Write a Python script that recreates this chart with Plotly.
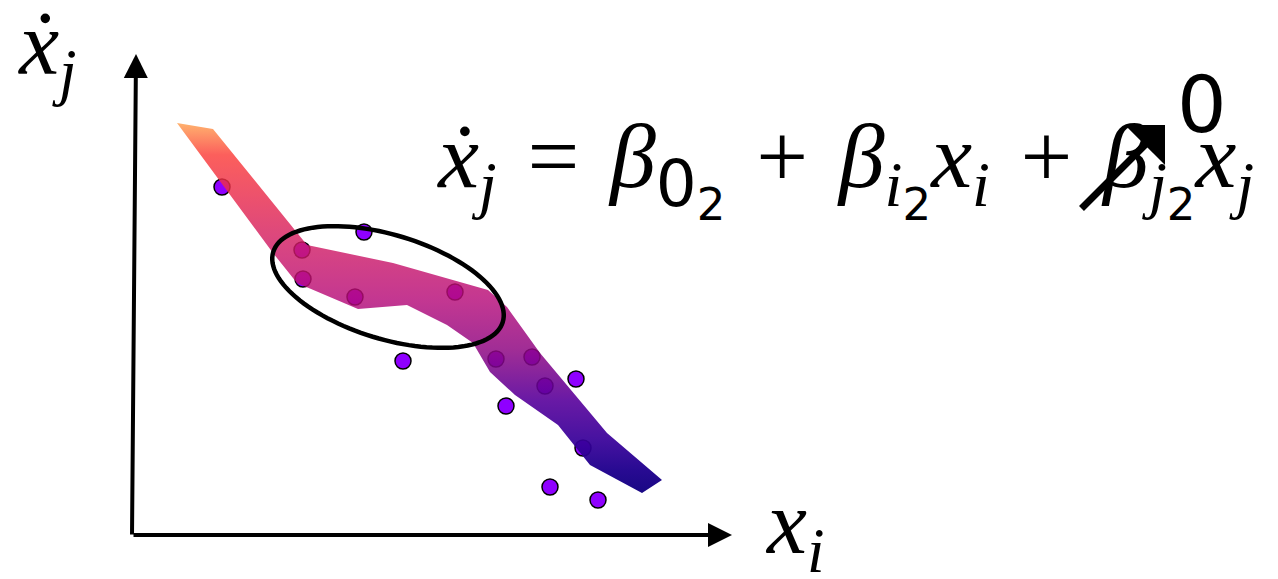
import numpy as np
import plotly.graph_objects as go

# Observations (x_i, dx_j/dt) in diagram units, origin at the axes corner
point_x = [89, 231, 169, 170, 222, 322, 270, 363, 399, 443, 412, 373, 450, 417, 465]
point_y = [348, 303, 285, 256, 238, 243, 174, 176, 178, 156, 149, 129, 87, 48, 35]

# Outline of the fitted band (upper edge then lower edge back to the start)
band_x = [44, 80, 174, 260, 355, 374, 407, 474, 529, 509, 457, 425, 382, 357,
          340, 314, 274, 225, 164, 140, 44]
band_y = [412, 406, 290, 272, 245, 228, 182, 102, 55, 42, 70, 110, 140, 163,
          192, 210, 230, 226, 252, 282, 412]

# Colour ramp of the band from its bottom (0) to its top (1)
band_colorscale = [
    [0.000, "rgba(20,3,130,0.98)"],
    [0.062, "rgba(31,0,141,0.96)"],
    [0.143, "rgba(56,0,153,0.93)"],
    [0.251, "rgba(88,0,155,0.90)"],
    [0.386, "rgba(143,8,131,0.85)"],
    [0.522, "rgba(182,11,121,0.82)"],
    [0.657, "rgba(206,27,103,0.82)"],
    [0.792, "rgba(231,42,78,0.82)"],
    [0.914, "rgba(251,60,56,0.82)"],
    [1.000, "rgba(255,161,78,0.82)"],
]

# Highlight ellipse: centre, semi-axes, tilt (degrees)
ellipse_center = (255, 248)
ellipse_axes = (120, 52)
ellipse_tilt = -17

# Axis extents
x_axis_end = 599
y_axis_end = 481

TEXT_FONT = "Liberation Serif"
DIGIT_FONT = "DejaVu Sans"
FS = 90
EQ_FS = 92
HS = "\u200a"  # hair space


def digit(s):
    return f'<span style="font-family:{DIGIT_FONT};font-style:normal">{s}</span>'


fig = go.Figure()

fig.add_trace(go.Scatter(
    x=point_x, y=point_y, mode="markers",
    marker=dict(size=16, color="#8f00ff", line=dict(color="black", width=1.5)),
    hoverinfo="skip", showlegend=False,
))

fig.add_trace(go.Scatter(
    x=band_x, y=band_y, mode="lines", fill="toself",
    line=dict(width=0),
    fillgradient=dict(type="vertical", colorscale=band_colorscale,
                      start=min(band_y), stop=max(band_y)),
    hoverinfo="skip", showlegend=False,
))

# ellipse outline as an SVG path
t = np.linspace(0, 2 * np.pi, 121)
th = np.deg2rad(ellipse_tilt)
ex = ellipse_center[0] + ellipse_axes[0] * np.cos(t) * np.cos(th) - ellipse_axes[1] * np.sin(t) * np.sin(th)
ey = ellipse_center[1] + ellipse_axes[0] * np.cos(t) * np.sin(th) + ellipse_axes[1] * np.sin(t) * np.cos(th)
path = "M " + " L ".join(f"{a:.2f},{b:.2f}" for a, b in zip(ex, ey)) + " Z"
fig.add_shape(type="path", path=path, xref="x", yref="y",
              line=dict(color="black", width=4.5))

equation = (
    "<i>x\u0307</i><sub><i>j</i></sub> " + HS + "=" + HS
    + " <i>β</i><sub>" + digit("0") + "<sub>" + digit("2") + "</sub></sub> " + HS + "+" + HS
    + " <i>β</i><sub><i>i</i><sub>" + digit("2") + "</sub></sub><i>x</i><sub><i>i</i></sub> " + HS + "+" + HS
    + " <i>β</i><sub><i>j</i><sub>" + digit("2") + "</sub></sub><i>x</i><sub><i>j</i></sub>"
)

annotations = [
    # axes
    dict(x=x_axis_end, y=0, ax=-1, ay=0, xref="x", yref="y", axref="x", ayref="y",
         showarrow=True, arrowhead=2, arrowwidth=4, arrowsize=1.2, arrowcolor="black", text=""),
    dict(x=3, y=y_axis_end, ax=-1, ay=-1, xref="x", yref="y", axref="x", ayref="y",
         showarrow=True, arrowhead=2, arrowwidth=4, arrowsize=1.2, arrowcolor="black", text=""),
    # axis labels
    dict(x=-117, y=485, xref="x", yref="y", xanchor="left", yanchor="middle", showarrow=False,
         text="<i>x\u0307</i><sub><i>j</i></sub>", font=dict(family=TEXT_FONT, size=FS, color="black")),
    dict(x=630, y=6, xref="x", yref="y", xanchor="left", yanchor="middle", showarrow=False,
         text="<i>x</i><sub><i>i</i></sub>", font=dict(family=TEXT_FONT, size=FS, color="black")),
    # model equation
    dict(x=302, y=367, xref="x", yref="y", xanchor="left", yanchor="middle", showarrow=False,
         text=equation, font=dict(family=TEXT_FONT, size=EQ_FS, color="black")),
    # the j-coefficient is driven to zero
    dict(x=1032, y=410, ax=947, ay=325, xref="x", yref="y", axref="x", ayref="y",
         showarrow=True, arrowhead=1, arrowwidth=7, arrowsize=1.35, arrowcolor="black", text=""),
    dict(x=1069, y=430, xref="x", yref="y", xanchor="center", yanchor="middle", showarrow=False,
         text="0", font=dict(family=DIGIT_FONT, size=78, color="black")),
]

fig.update_layout(
    width=1278, height=579,
    margin=dict(l=0, r=0, t=0, b=0),
    paper_bgcolor="white", plot_bgcolor="white",
    xaxis=dict(range=[-133, 1145], visible=False, fixedrange=True),
    yaxis=dict(range=[-44, 535], visible=False, fixedrange=True),
    annotations=annotations,
    showlegend=False,
)

fig.write_html("out.html")
